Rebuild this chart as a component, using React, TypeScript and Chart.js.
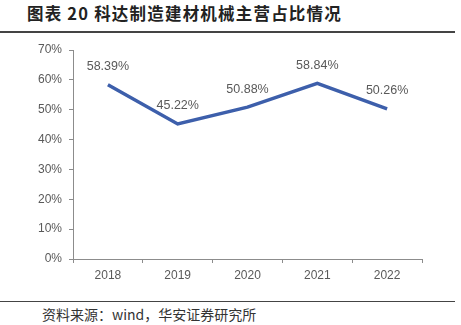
import React, { useEffect, useRef } from "react";
import { Chart, registerables } from "chart.js";

Chart.register(...registerables);

const categories = ["2018", "2019", "2020", "2021", "2022"];
const shareValues = [58.39, 45.22, 50.88, 58.84, 50.26];
const yTicks = [0, 10, 20, 30, 40, 50, 60, 70];

const TEXT_GRAY = "#595959";
const AXIS_GRAY = "#8c8c8c";
const LINE_BLUE = "#3D5FAB";

const labelPlugin = {
  id: "pointLabels",
  afterDatasetsDraw(chart: any) {
    const ctx = chart.ctx;
    const meta = chart.getDatasetMeta(0);
    ctx.save();
    ctx.font = "12.5px 'Liberation Sans', Arial, sans-serif";
    ctx.fillStyle = TEXT_GRAY;
    ctx.textAlign = "center";
    ctx.textBaseline = "middle";
    meta.data.forEach((pt: any, i: number) => {
      ctx.fillText(shareValues[i].toFixed(2) + "%", pt.x, pt.y - 18);
    });
    ctx.restore();
  },
};

export default function App() {
  const ref = useRef<HTMLCanvasElement>(null);
  useEffect(() => {
    if (!ref.current) return;
    const chart = new Chart(ref.current, {
      type: "line",
      data: {
        labels: categories,
        datasets: [
          {
            data: shareValues,
            borderColor: LINE_BLUE,
            borderWidth: 3.5,
            pointRadius: 0,
            tension: 0,
            fill: false,
          },
        ],
      },
      options: {
        animation: false,
        responsive: false,
        maintainAspectRatio: false,
        layout: { padding: { left: 0, right: 39, top: 15, bottom: 0 } },
        plugins: { legend: { display: false }, tooltip: { enabled: false } },
        scales: {
          x: {
            offset: true,
            afterFit: (s: any) => {
              s.height = 36;
            },
            grid: {
              display: true,
              offset: true,
              drawOnChartArea: false,
              drawTicks: true,
              tickLength: 4,
              color: AXIS_GRAY,
            },
            border: { display: true, color: AXIS_GRAY, width: 1 },
            ticks: {
              color: TEXT_GRAY,
              font: { size: 12, family: "'Liberation Sans', Arial, sans-serif" },
              padding: 5,
              maxRotation: 0,
            },
          },
          y: {
            min: 0,
            max: 70,
            afterFit: (s: any) => {
              s.width = 73;
            },
            afterBuildTicks: (s: any) => {
              s.ticks = yTicks.map((v) => ({ value: v }));
            },
            grid: {
              display: true,
              drawOnChartArea: false,
              drawTicks: true,
              tickLength: 4,
              color: AXIS_GRAY,
            },
            border: { display: true, color: AXIS_GRAY, width: 1 },
            ticks: {
              color: TEXT_GRAY,
              font: { size: 12, family: "'Liberation Sans', Arial, sans-serif" },
              padding: 7,
              callback: (v: any) => v + "%",
            },
          },
        },
      },
      plugins: [labelPlugin],
    });
    return () => chart.destroy();
  }, []);

  return (
    <div
      style={{
        position: "fixed",
        left: 0,
        top: 0,
        width: 461,
        height: 325,
        background: "#fff",
        overflow: "hidden",
      }}
    >
      <div
        style={{
          position: "absolute",
          left: 27,
          top: 1,
          height: 24,
          lineHeight: "24px",
          fontFamily: "'Noto Sans CJK SC', sans-serif",
          fontWeight: 700,
          fontSize: 16.5,
          color: "#222",
          letterSpacing: 1.2,
          whiteSpace: "nowrap",
        }}
      >
        图表 20 科达制造建材机械主营占比情况
      </div>
      <div
        style={{
          position: "absolute",
          left: 0,
          top: 31,
          width: 455,
          height: 1.5,
          background: "#444",
        }}
      />
      <canvas
        ref={ref}
        width={461}
        height={260}
        style={{ position: "absolute", left: 0, top: 35, width: 461, height: 260 }}
      />
      <div
        style={{
          position: "absolute",
          left: 0,
          top: 301,
          width: 455,
          height: 1,
          background: "#444",
        }}
      />
      <div
        style={{
          position: "absolute",
          left: 42,
          top: 304,
          height: 20,
          lineHeight: "20px",
          fontFamily: "'Noto Sans CJK SC', sans-serif",
          fontSize: 14,
          color: "#333",
          whiteSpace: "nowrap",
        }}
      >
        资料来源：wind，华安证券研究所
      </div>
    </div>
  );
}
